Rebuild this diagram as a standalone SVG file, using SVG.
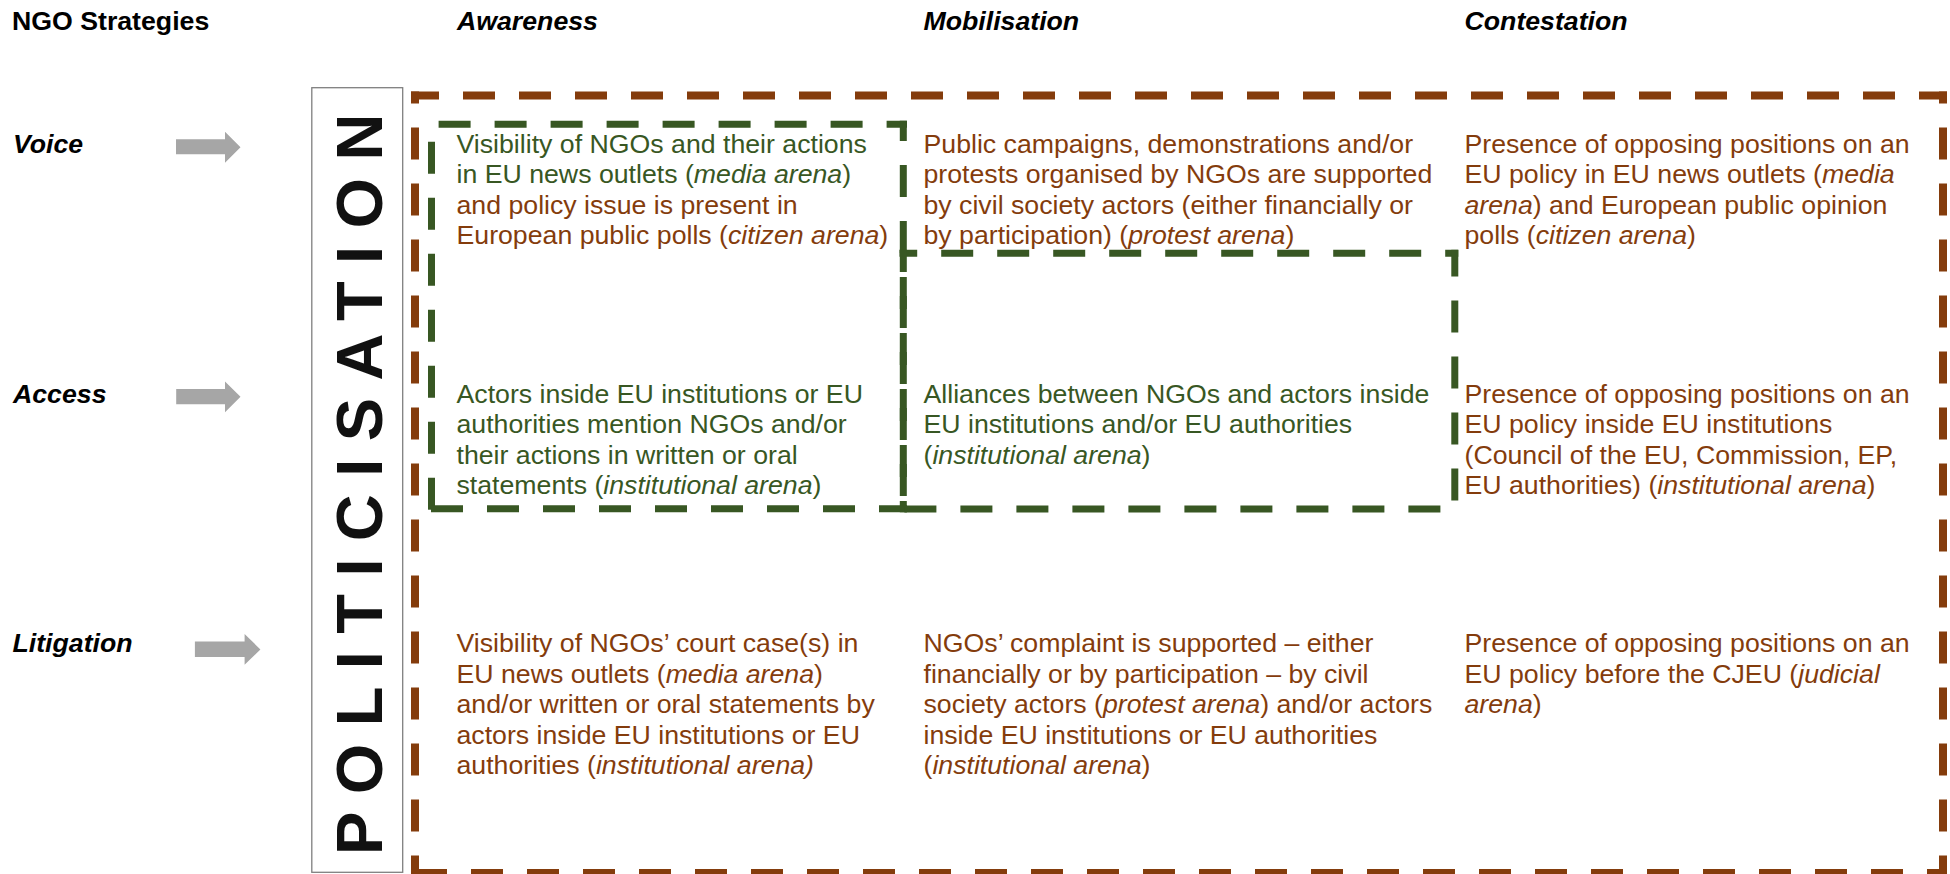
<svg xmlns="http://www.w3.org/2000/svg" width="1950" height="874" viewBox="0 0 1950 874">
<style>
text { font-family: "Liberation Sans", Arial, sans-serif; }
.hd { font-size: 26.7px; font-weight: bold; font-style: italic; fill: #000; }
.hdn { font-size: 26.7px; font-weight: bold; fill: #000; }
.body { font-size: 26.7px; }
.br { fill: #843c0c; }
.gr { fill: #385723; }
.i { font-style: italic; }
.bdash { fill: none; stroke: #843c0c; stroke-width: 8; stroke-dasharray: 32 24; }
.gdash { fill: none; stroke: #385723; stroke-width: 7; stroke-dasharray: 32 24; }
.arrow { fill: #a6a6a6; }
.pol { font-size: 65px; font-weight: bold; fill: #111; letter-spacing: 17.4px; }
</style>
<rect x="0" y="0" width="1950" height="874" fill="#fff"/>

<g id="headers">
  <text class="hdn" x="12" y="30">NGO Strategies</text>
  <text class="hd" x="457" y="30">Awareness</text>
  <text class="hd" x="923.5" y="30">Mobilisation</text>
  <text class="hd" x="1464.5" y="30">Contestation</text>
</g>

<g id="row-voice"><text class="hd" x="13" y="152.7">Voice</text></g>
<g id="row-access"><text class="hd" x="13" y="402.9">Access</text></g>
<g id="row-litigation"><text class="hd" x="12.5" y="652">Litigation</text></g>

<g id="politicisation">
  <rect x="311.8" y="87.7" width="90.9" height="784.6" fill="#fff" stroke="#7f7f7f" stroke-width="1.3"/>
  <text class="pol" transform="translate(381.7,855) rotate(-90)" x="0" y="0">POLITICISATION</text>
</g>

<g id="connectors">
  <polygon class="arrow" points="176,139.3 225,139.3 225,131.7 240.5,147.2 225,162.7 225,154.3 176,154.3"/>
  <polygon class="arrow" points="176.2,388.9 225,388.9 225,381.4 240.5,396.8 225,412.2 225,404.3 176.2,404.3"/>
  <polygon class="arrow" points="194.9,641.5 244.6,641.5 244.6,634 260.4,649.4 244.6,664.8 244.6,657 194.9,657"/>
</g>

<g id="frame-contestation">
  <line class="bdash" x1="411" y1="95.5" x2="1947" y2="95.5" stroke-dashoffset="4"/>
  <line class="bdash" x1="415" y1="873" x2="1947" y2="873"/>
  <line class="bdash" x1="415" y1="91.5" x2="415" y2="877" stroke-dashoffset="20"/>
  <line class="bdash" x1="1943" y1="91.5" x2="1943" y2="877" stroke-dashoffset="20"/>
</g>

<g id="frame-awareness">
  <line class="gdash" x1="438.6" y1="124.2" x2="907" y2="124.2"/>
  <line class="gdash" x1="431.5" y1="120.7" x2="431.5" y2="512.3" stroke-dashoffset="35"/>
  <line class="gdash" x1="903.3" y1="120.7" x2="903.3" y2="512.3" stroke-dashoffset="11.7"/>
  <line class="gdash" x1="431" y1="508.8" x2="907" y2="508.8"/>
</g>

<g id="frame-mobilisation">
  <line class="gdash" x1="899.5" y1="253.3" x2="1458.3" y2="253.3" stroke-dashoffset="14.3"/>
  <line class="gdash" x1="903.3" y1="249.8" x2="903.3" y2="512.5" stroke-dashoffset="9.8"/>
  <line class="gdash" x1="1454.8" y1="249.8" x2="1454.8" y2="512.5" stroke-dashoffset="5.3"/>
  <line class="gdash" x1="899.5" y1="509" x2="1458.3" y2="509" stroke-dashoffset="51.1"/>
</g>

<g id="cell-voice-awareness">
  <text class="body">
    <tspan class="gr" x="456.5" y="152.7">Visibility of NGOs and their actions</tspan>
    <tspan class="gr" x="456.5" y="183.2">in EU news outlets (<tspan class="i">media arena</tspan>)</tspan>
    <tspan class="br" x="456.5" y="213.7">and policy issue is present in</tspan>
    <tspan class="br" x="456.5" y="244.2">European public polls (<tspan class="i">citizen arena</tspan>)</tspan>
  </text>
</g>
<g id="cell-voice-mobilisation">
  <text class="body br">
    <tspan x="923.5" y="152.7">Public campaigns, demonstrations and/or</tspan>
    <tspan x="923.5" y="183.2">protests organised by NGOs are supported</tspan>
    <tspan x="923.5" y="213.7">by civil society actors (either financially or</tspan>
    <tspan x="923.5" y="244.2">by participation) (<tspan class="i">protest arena</tspan>)</tspan>
  </text>
</g>
<g id="cell-voice-contestation">
  <text class="body br">
    <tspan x="1464.5" y="152.7">Presence of opposing positions on an</tspan>
    <tspan x="1464.5" y="183.2">EU policy in EU news outlets (<tspan class="i">media</tspan></tspan>
    <tspan x="1464.5" y="213.7"><tspan class="i">arena</tspan>) and European public opinion</tspan>
    <tspan x="1464.5" y="244.2">polls (<tspan class="i">citizen arena</tspan>)</tspan>
  </text>
</g>

<g id="cell-access-awareness">
  <text class="body gr">
    <tspan x="456.5" y="402.9">Actors inside EU institutions or EU</tspan>
    <tspan x="456.5" y="433.4">authorities mention NGOs and/or</tspan>
    <tspan x="456.5" y="463.9">their actions in written or oral</tspan>
    <tspan x="456.5" y="494.4">statements (<tspan class="i">institutional arena</tspan>)</tspan>
  </text>
</g>
<g id="cell-access-mobilisation">
  <text class="body gr">
    <tspan x="923.5" y="402.9">Alliances between NGOs and actors inside</tspan>
    <tspan x="923.5" y="433.4">EU institutions and/or EU authorities</tspan>
    <tspan x="923.5" y="463.9">(<tspan class="i">institutional arena</tspan>)</tspan>
  </text>
</g>
<g id="cell-access-contestation">
  <text class="body br">
    <tspan x="1464.5" y="402.9">Presence of opposing positions on an</tspan>
    <tspan x="1464.5" y="433.4">EU policy inside EU institutions</tspan>
    <tspan x="1464.5" y="463.9">(Council of the EU, Commission, EP,</tspan>
    <tspan x="1464.5" y="494.4">EU authorities) (<tspan class="i">institutional arena</tspan>)</tspan>
  </text>
</g>

<g id="cell-litigation-awareness">
  <text class="body br">
    <tspan x="456.5" y="652">Visibility of NGOs’ court case(s) in</tspan>
    <tspan x="456.5" y="682.5">EU news outlets (<tspan class="i">media arena</tspan>)</tspan>
    <tspan x="456.5" y="713">and/or written or oral statements by</tspan>
    <tspan x="456.5" y="743.5">actors inside EU institutions or EU</tspan>
    <tspan x="456.5" y="774">authorities (<tspan class="i">institutional arena)</tspan></tspan>
  </text>
</g>
<g id="cell-litigation-mobilisation">
  <text class="body br">
    <tspan x="923.5" y="652">NGOs’ complaint is supported – either</tspan>
    <tspan x="923.5" y="682.5">financially or by participation – by civil</tspan>
    <tspan x="923.5" y="713">society actors (<tspan class="i">protest arena</tspan>) and/or actors</tspan>
    <tspan x="923.5" y="743.5">inside EU institutions or EU authorities</tspan>
    <tspan x="923.5" y="774">(<tspan class="i">institutional arena</tspan>)</tspan>
  </text>
</g>
<g id="cell-litigation-contestation">
  <text class="body br">
    <tspan x="1464.5" y="652">Presence of opposing positions on an</tspan>
    <tspan x="1464.5" y="682.5">EU policy before the CJEU (<tspan class="i">judicial</tspan></tspan>
    <tspan x="1464.5" y="713"><tspan class="i">arena</tspan>)</tspan>
  </text>
</g>
</svg>
